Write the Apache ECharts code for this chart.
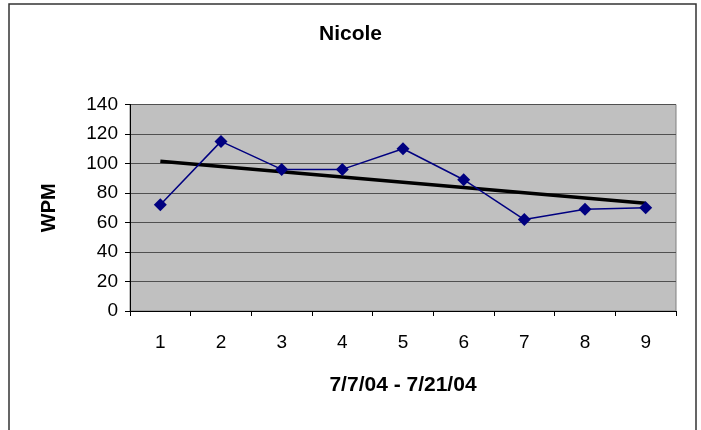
<!DOCTYPE html>
<html>
<head>
<meta charset="UTF-8">
<title>Nicole WPM</title>
<script type="text/javascript" src="https://cdn.jsdelivr.net/npm/echarts@6/dist/echarts.min.js"></script>
<style>
  body{margin:0;background:#fff}
</style>
</head>
<body>
	<div id="main" style="width:701px;height:430px"></div>
	<script type="text/javascript">
	// categories (days), wpm values, trendline endpoints
	var days = ['1','2','3','4','5','6','7','8','9'];
	var wpm = [72, 115, 96, 96, 110, 89, 62, 69, 70];
	var trend = [101.5, null, null, null, null, null, null, null, 73];
	var yTicks = {min: 0, max: 140, step: 20};

	var myEcharts = echarts.init(document.getElementById('main'));
	var font = 'Liberation Sans, Arial, sans-serif';

	var option = {
		animation: false,
		title: {
			text: 'Nicole',
			left: 'center',
			top: 19,
			textStyle: {fontFamily: font, fontSize: 21, fontWeight: 'bold', color: '#000'}
		},
		graphic: [{
			type: 'rect',
			shape: {x: 9, y: 4, width: 687, height: 440},
			style: {fill: 'none', stroke: '#333', lineWidth: 1.5},
			silent: true
		}],
		grid: {
			left: 130, right: 25, top: 104.5, bottom: 119,
			show: true,
			backgroundColor: '#c0c0c0',
			borderColor: '#808080',
			borderWidth: 1
		},
		xAxis: {
			type: 'category',
			data: days,
			boundaryGap: true,
			name: '7/7/04 - 7/21/04',
			nameLocation: 'middle',
			nameGap: 64,
			nameTextStyle: {fontFamily: font, fontSize: 21, fontWeight: 'bold', color: '#000'},
			axisLine: {lineStyle: {color: '#000', width: 1}},
			axisTick: {show: true, length: 5, lineStyle: {color: '#000'}},
			axisLabel: {fontFamily: font, fontSize: 19, color: '#000', margin: 22}
		},
		yAxis: {
			type: 'value',
			min: yTicks.min,
			max: yTicks.max,
			interval: yTicks.step,
			name: 'WPM',
			nameLocation: 'middle',
			nameGap: 71,
			nameRotate: 90,
			nameTextStyle: {fontFamily: font, fontSize: 20, fontWeight: 'bold', color: '#000'},
			axisLine: {show: true, lineStyle: {color: '#000', width: 1}},
			axisTick: {show: true, length: 5, lineStyle: {color: '#000'}},
			axisLabel: {fontFamily: font, fontSize: 19, color: '#000', margin: 12},
			splitLine: {show: true, lineStyle: {color: '#505050', width: 1}}
		},
		series: [
			{
				name: 'WPM',
				type: 'line',
				data: wpm,
				symbol: 'diamond',
				symbolSize: 13,
				itemStyle: {color: '#000080'},
				lineStyle: {color: '#000080', width: 1.5},
				z: 3
			},
			{
				name: 'trend',
				type: 'line',
				data: trend,
				connectNulls: true,
				symbol: 'none',
				lineStyle: {color: '#000', width: 3.5},
				z: 2
			}
		]
	};
	myEcharts.setOption(option);
	</script>
</body>
</html>
